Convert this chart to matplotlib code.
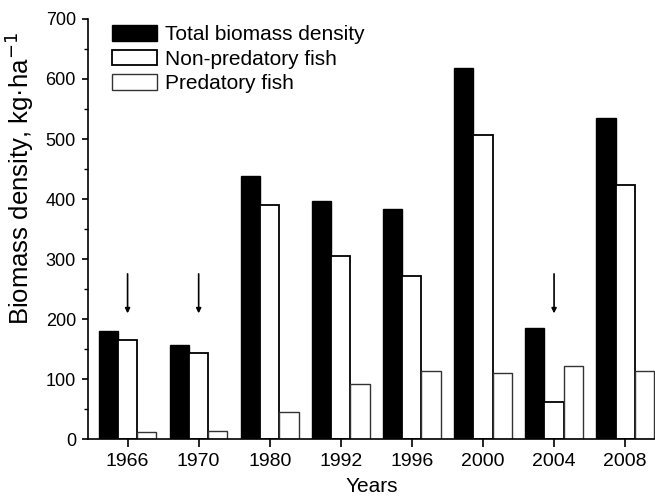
import numpy as np
import matplotlib
matplotlib.use("Agg")
from matplotlib import pyplot as plt
from matplotlib.ticker import MultipleLocator

years = ["1966", "1970", "1980", "1992", "1996", "2000", "2004", "2008"]
total = [180, 157, 438, 397, 383, 618, 185, 535]
non_predatory = [165, 143, 390, 305, 272, 507, 62, 423]
predatory = [12, 13, 46, 92, 113, 110, 122, 113]
arrow_years = ["1966", "1970", "2004"]

plt.rcParams["font.family"] = ["Liberation Sans", "DejaVu Sans"]

fig = plt.figure(figsize=(6.55, 4.98), dpi=100)
ax = fig.add_axes([0.134, 0.118, 0.866, 0.844])

x = np.arange(len(years))
w = 0.27
ax.bar(x - w, total, w, color="black", edgecolor="black", linewidth=1.0,
       label="Total biomass density")
ax.bar(x, non_predatory, w, color="white", edgecolor="black", linewidth=1.3,
       label="Non-predatory fish")
ax.bar(x + w, predatory, w, color="white", edgecolor="#333333", linewidth=1.0,
       label="Predatory fish")

for yr in arrow_years:
    i = years.index(yr)
    ax.annotate("", xy=(i, 205), xytext=(i, 280),
                arrowprops=dict(arrowstyle="-|>", color="black", lw=1.2,
                                mutation_scale=7))

ax.set_xlim(-0.56, 7.42)
ax.set_ylim(0, 700)
ax.set_xticks(x)
ax.set_xticklabels(years)
ax.yaxis.set_major_locator(MultipleLocator(100))
ax.yaxis.set_minor_locator(MultipleLocator(50))
ax.tick_params(axis="x", labelsize=14, width=1.2, length=6, pad=4)
ax.tick_params(axis="y", labelsize=13, width=1.2, length=4.5, pad=4)
ax.tick_params(axis="y", which="minor", width=1.0, length=3)
ax.spines["top"].set_visible(False)
ax.spines["right"].set_visible(False)
ax.spines["left"].set_linewidth(1.2)
ax.spines["bottom"].set_linewidth(1.2)

ax.set_xlabel("Years", fontsize=15, labelpad=5)
ax.set_ylabel("Biomass density, kg\u00b7ha$^{-1}$", fontsize=18.5)
ax.yaxis.set_label_coords(-0.092, 0.62)

ax.legend(loc="upper left", bbox_to_anchor=(0.02, 1.015), frameon=False,
          fontsize=15, handlelength=2.2, handleheight=0.8, labelspacing=0.25,
          handletextpad=0.35, borderaxespad=0.2)

fig.savefig("out.png", dpi=100)
